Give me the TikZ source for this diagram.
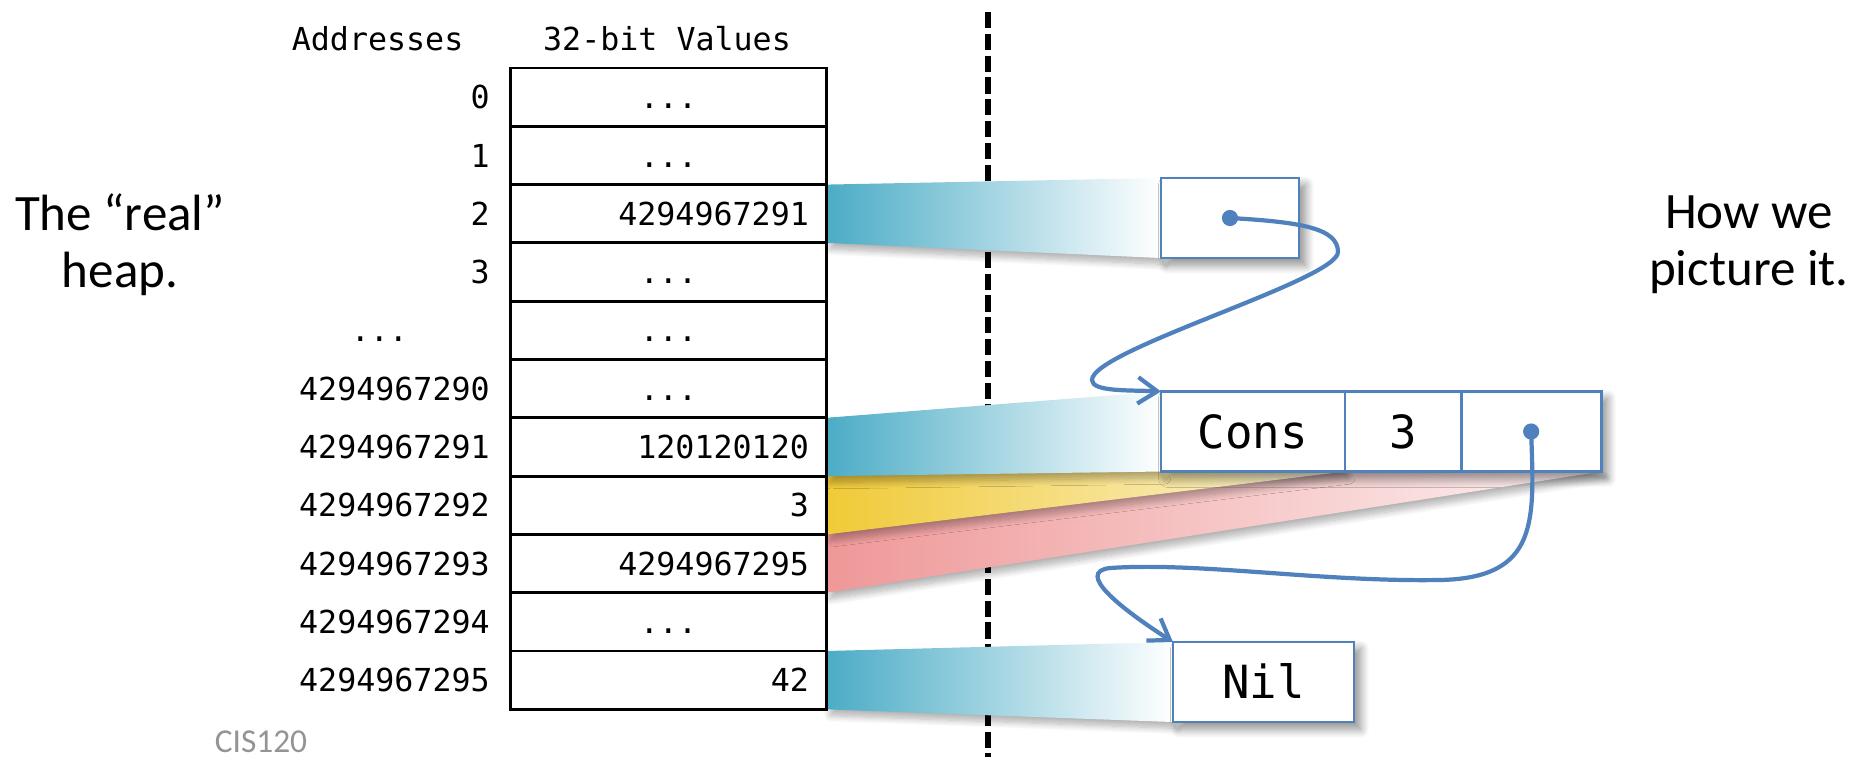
\documentclass[tikz,border=0pt]{standalone}
\usepackage{fontspec}
\setmainfont{Carlito}
\setmonofont{DejaVu Sans Mono}
\usetikzlibrary{positioning, arrows.meta, shadows.blur, backgrounds}
\definecolor{boxblue}{RGB}{79,129,189}
\definecolor{wedgeblue}{RGB}{75,172,198}
\definecolor{wedgeyellow}{RGB}{240,202,55}
\definecolor{wedgepink}{RGB}{239,152,152}
\newcommand\etc{...}

\begin{document}
\begin{tikzpicture}[x=0.01cm, y=-0.01cm,
    small/.style={font=\fontsize{9}{10}\ttfamily, text height=6.6pt, text depth=0pt, inner sep=0pt},
    big/.style={font=\fontsize{13}{15}\ttfamily, text height=9.5pt, text depth=0pt},
    cell/.style={draw, line width=0.8pt, minimum width=3.16cm, minimum height=0.583cm, inner sep=0pt, outer sep=0pt},
    heapbox/.style={draw=boxblue, line width=0.8pt, minimum height=0.8cm, inner sep=0pt, outer sep=0pt, big},
    boxshadow/.style={blur shadow={shadow xshift=1.8pt, shadow yshift=-2pt, shadow blur radius=2.5pt, shadow blur steps=10, shadow opacity=45}},
    wedge/.style={blur shadow={shadow xshift=1pt, shadow yshift=-1.8pt, shadow blur radius=1.8pt, shadow blur steps=10, shadow opacity=30}},
    link/.style={draw=boxblue, line width=1.2pt, -{Straight Barb[length=5.5pt, width=7.5pt]}}]
    \useasboundingbox (0,0) rectangle (1862,757);

    \node[small] (addrhead) at (377.6,39) {Addresses};
    \node[small] (valhead) at (667,39) {32-bit Values};
    \foreach \i in {0,...,10}
        \node[cell] (c\i) at (668.5,{97.15+58.3*\i}) {};
    \foreach \i/\a in {0/0, 1/1, 2/2, 3/3, 5/4294967290, 6/4294967291, 7/4294967292, 8/4294967293, 9/4294967294, 10/4294967295}
        \node[small, anchor=east] at ([xshift=-0.2cm]c\i.west) {\a};
    \node[small] at ([xshift=-1.31cm]c4.west) {\etc};
    \foreach \i in {0,1,3,4,5,9}
        \node[small] at (c\i) {\etc};
    \foreach \i/\v in {2/4294967291, 6/120120120, 7/3, 8/4294967295, 10/42}
        \node[small, anchor=east] at ([xshift=-0.17cm]c\i.east) {\v};

    \node[heapbox, minimum width=1.38cm] (ptr) at (1230,218) {};
    \node[heapbox, minimum width=1.84cm] (cons) at (1253,431.5) {Cons};
    \node[heapbox, minimum width=1.16cm, right=0pt of cons] (three) {3};
    \node[heapbox, minimum width=1.40cm, right=0pt of three] (tail) {};
    \node[heapbox, minimum width=1.81cm] (nil) at (1263.5,682) {Nil};

    \begin{scope}[on background layer]
        \draw[line width=1.6pt, dash pattern=on 4.6pt off 1.6pt] (988,12) -- (988,757);
        \shade[wedge, left color=wedgepink, right color=wedgepink!12] (c8.north east) -- (tail.north west) -- (tail.south east) -- (c8.south east) -- cycle;
        \shade[wedge, left color=wedgeyellow, right color=wedgeyellow!18] (c7.north east) -- (three.north west) -- (three.south west) -- (c7.south east) -- cycle;
        \shade[wedge, left color=wedgeblue, right color=white] (c6.north east) -- (cons.north west) -- (cons.south west) -- (c6.south east) -- cycle;
        \shade[wedge, left color=wedgeblue, right color=white] (c2.north east) -- (ptr.north west) -- (ptr.south west) -- (c2.south east) -- cycle;
        \shade[wedge, left color=wedgeblue, right color=white] (c10.north east) -- (nil.north west) -- (nil.south west) -- (c10.south east) -- cycle;
        \fill[white, boxshadow] (ptr.north west) rectangle (ptr.south east);
        \fill[white, boxshadow] (cons.north west) rectangle (tail.south east);
        \fill[white, boxshadow] (nil.north west) rectangle (nil.south east);
    \end{scope}

    \fill[boxblue] (ptr.center) circle (2.3pt);
    \draw[link] (ptr.center) .. controls (1300,222) and (1338,228) .. (1338,252)
        .. controls (1338,280) and (1092,350) .. (1092,380)
        .. controls (1092,392) and (1130,390) .. (cons.north west);
    \fill[boxblue] (tail.center) circle (2.3pt);
    \draw[link] (tail.center) .. controls (1534,520) and (1540,578) .. (1440,580)
        .. controls (1320,582) and (1200,562) .. (1110,568)
        .. controls (1075,572) and (1120,608) .. (nil.north west);

    \node[align=center, font=\fontsize{14.5}{16.2}\selectfont] (real) at (120,245) {The “real”\\heap.};
    \node[align=center, font=\fontsize{14.5}{16.2}\selectfont] (ours) at (1749,245) {How we\\picture it.};
    \node[text=black!42, font=\fontsize{9.5}{11}\selectfont] (course) at (261,742) {CIS120};
\end{tikzpicture}
\end{document}
